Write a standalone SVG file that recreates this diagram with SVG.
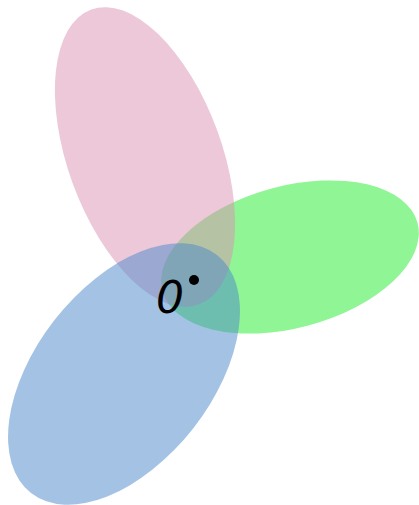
<svg xmlns="http://www.w3.org/2000/svg" width="419" height="505" viewBox="0 0 419 505">
<style>
.e{opacity:0.5}
.lbl{font-family:"DejaVu Sans",sans-serif;font-style:italic;font-size:44px;fill:#000}
</style>
<rect width="419" height="505" fill="#fff"/>
<g id="green"><ellipse class="e" cx="290" cy="257" rx="132" ry="71" fill="#21EB2B" transform="rotate(-15 290 257)"/></g>
<g id="pink"><ellipse class="e" cx="145" cy="157" rx="77" ry="157" fill="#D991B3" transform="rotate(-20 145 157)"/></g>
<g id="blue"><ellipse class="e" cx="124" cy="374" rx="88" ry="151" fill="#4987C9" transform="rotate(38 124 374)"/></g>
<g id="origin">
<circle cx="194" cy="280" r="5" fill="#000"/>
<text class="lbl" x="156" y="313">0</text>
</g>
</svg>
